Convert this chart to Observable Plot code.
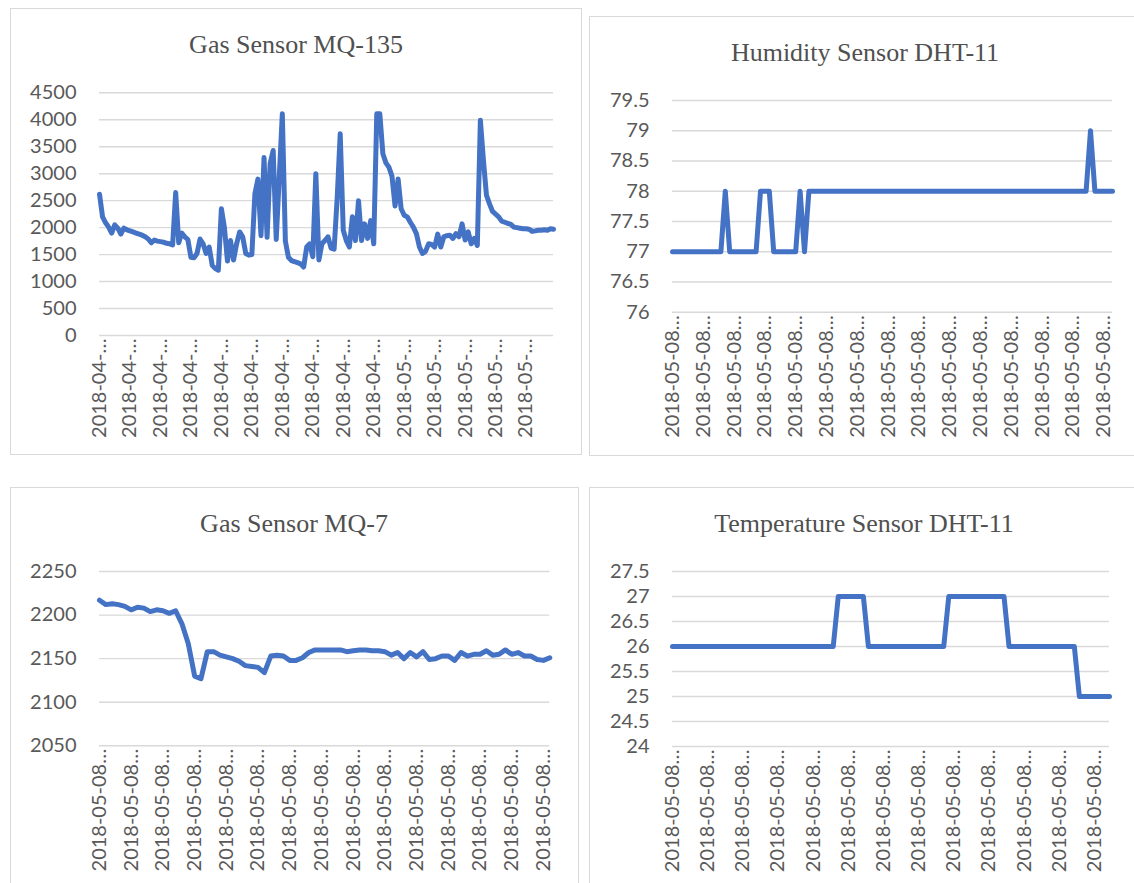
<!DOCTYPE html>
<html><head><meta charset="utf-8">
<script src="https://cdn.jsdelivr.net/npm/d3@7"></script>
<script src="https://cdn.jsdelivr.net/npm/@observablehq/plot@0.6"></script>
<style>
html,body{margin:0;padding:0;background:#fff;}
#page{position:relative;width:1134px;height:883px;overflow:hidden;background:#fff;}
.frame{position:absolute;border:1.3px solid #d9d9d9;box-sizing:border-box;}
.title{position:absolute;font-family:"Liberation Serif","Times New Roman",serif;font-size:26px;line-height:26px;color:#505050;white-space:nowrap;transform:translateX(-50%);}
.chart{position:absolute;}
</style></head><body><div id="page"></div>
<script>
// ---------- data ----------
const mq135Values = [
  2620, 2200, 2090, 2010, 1900, 2050, 1990, 1880, 1990, 1960,
  1940, 1920, 1900, 1880, 1860, 1830, 1790, 1720, 1770, 1750,
  1740, 1730, 1710, 1700, 1680, 2650, 1720, 1900, 1830, 1780,
  1450, 1440, 1520, 1790, 1700, 1520, 1640, 1300, 1240, 1210,
  2350, 2000, 1380, 1760, 1400, 1700, 1920, 1830, 1520, 1490,
  1500, 2630, 2900, 1850, 3300, 1820, 3190, 3430, 1780, 2940,
  4110, 1750, 1450, 1390, 1370, 1350, 1330, 1270, 1640, 1700,
  1460, 3000, 1400, 1700, 1760, 1830, 1620, 1600, 2540, 3740,
  1950, 1760, 1640, 2200, 1760, 2500, 1760, 2070, 1800, 2130,
  1700, 4110, 4110, 3370, 3200, 3120, 2950, 2400, 2900, 2350,
  2230, 2200, 2100, 2010, 1890, 1640, 1520, 1560, 1700, 1690,
  1640, 1880, 1640, 1830, 1850, 1860, 1800, 1890, 1830, 2070,
  1770, 1920, 1700, 1800, 1670, 3990, 3250, 2600, 2440, 2300,
  2250, 2200, 2120, 2100, 2080, 2060, 2010, 2000, 1990, 1980,
  1980, 1970, 1930, 1940, 1950, 1950, 1960, 1950, 1980, 1970
];
const mq135Labels = [
  "2018-04-…", "2018-04-…", "2018-04-…", "2018-04-…", "2018-04-…",
  "2018-04-…", "2018-04-…", "2018-04-…", "2018-04-…", "2018-04-…",
  "2018-05-…", "2018-05-…", "2018-05-…", "2018-05-…", "2018-05-…"
];
const mq135YTicks = [0, 500, 1000, 1500, 2000, 2500, 3000, 3500, 4000, 4500];

const humidityValues = [
  77, 77, 77, 77, 77, 77, 77, 77, 77, 77,
  77, 77, 78, 77, 77, 77, 77, 77, 77, 77,
  78, 78, 78, 77, 77, 77, 77, 77, 77, 78,
  77, 78, 78, 78, 78, 78, 78, 78, 78, 78,
  78, 78, 78, 78, 78, 78, 78, 78, 78, 78,
  78, 78, 78, 78, 78, 78, 78, 78, 78, 78,
  78, 78, 78, 78, 78, 78, 78, 78, 78, 78,
  78, 78, 78, 78, 78, 78, 78, 78, 78, 78,
  78, 78, 78, 78, 78, 78, 78, 78, 78, 78,
  78, 78, 78, 78, 78, 79, 78, 78, 78, 78,
  78
];
const humidityLabels = [
  "2018-05-08…", "2018-05-08…", "2018-05-08…", "2018-05-08…", "2018-05-08…",
  "2018-05-08…", "2018-05-08…", "2018-05-08…", "2018-05-08…", "2018-05-08…",
  "2018-05-08…", "2018-05-08…", "2018-05-08…", "2018-05-08…", "2018-05-08…"
];
const humidityYTicks = [76, 76.5, 77, 77.5, 78, 78.5, 79, 79.5];

const mq7Values = [
  2217, 2212, 2213, 2212, 2210, 2206, 2209, 2208, 2204, 2206,
  2205, 2202, 2205, 2190, 2167, 2130, 2127, 2158, 2158, 2154,
  2152, 2150, 2147, 2142, 2141, 2140, 2134, 2153, 2154, 2153,
  2148, 2148, 2151, 2157, 2160, 2160, 2160, 2160, 2160, 2158,
  2159, 2160, 2160, 2159, 2159, 2158, 2154, 2157, 2150, 2157,
  2152, 2158, 2149, 2150, 2153, 2153, 2148, 2157, 2153, 2155,
  2155, 2159, 2154, 2155, 2160, 2155, 2157, 2153, 2153, 2149,
  2148, 2151
];
const mq7Labels = [
  "2018-05-08…", "2018-05-08…", "2018-05-08…", "2018-05-08…", "2018-05-08…",
  "2018-05-08…", "2018-05-08…", "2018-05-08…", "2018-05-08…", "2018-05-08…",
  "2018-05-08…", "2018-05-08…", "2018-05-08…", "2018-05-08…", "2018-05-08…"
];
const mq7YTicks = [2050, 2100, 2150, 2200, 2250];

const temperatureValues = [
  26, 26, 26, 26, 26, 26, 26, 26, 26, 26,
  26, 26, 26, 26, 26, 26, 26, 26, 26, 26,
  26, 26, 26, 26, 26, 26, 26, 26, 26, 26,
  26, 26, 26, 27, 27, 27, 27, 27, 27, 26,
  26, 26, 26, 26, 26, 26, 26, 26, 26, 26,
  26, 26, 26, 26, 26, 27, 27, 27, 27, 27,
  27, 27, 27, 27, 27, 27, 27, 26, 26, 26,
  26, 26, 26, 26, 26, 26, 26, 26, 26, 26,
  26, 25, 25, 25, 25, 25, 25, 25
];
const temperatureLabels = [
  "2018-05-08…", "2018-05-08…", "2018-05-08…", "2018-05-08…", "2018-05-08…",
  "2018-05-08…", "2018-05-08…", "2018-05-08…", "2018-05-08…", "2018-05-08…",
  "2018-05-08…", "2018-05-08…", "2018-05-08…"
];
const temperatureYTicks = [24, 24.5, 25, 25.5, 26, 26.5, 27, 27.5];

// ---------- layout ----------
const page = document.getElementById("page");

function addPanel(cfg) {
  const fr = document.createElement("div");
  fr.className = "frame";
  Object.assign(fr.style, {left: cfg.frame[0] + "px", top: cfg.frame[1] + "px", width: cfg.frame[2] + "px", height: cfg.frame[3] + "px"});
  page.appendChild(fr);

  const n = cfg.values.length;
  const tickIdx = cfg.labels.map((_, k) => k * cfg.step);
  const data = cfg.values.map((v, i) => ({i, v}));

  const chart = Plot.plot({
    width: cfg.svg[2],
    height: cfg.svg[3],
    marginLeft: cfg.m[0],
    marginRight: cfg.m[1],
    marginTop: cfg.m[2],
    marginBottom: cfg.m[3],
    style: {fontFamily: "Lato, 'Open Sans', sans-serif", fontSize: "20px", color: "#595959", background: "transparent", overflow: "visible"},
    x: {type: "linear", domain: [0, n - 1]},
    y: {domain: [cfg.yTicks[0], cfg.yTicks[cfg.yTicks.length - 1]]},
    marks: [
      Plot.gridY(cfg.yTicks, {stroke: "#d9d9d9", strokeOpacity: 1, strokeWidth: 1.4}),
      Plot.axisY(cfg.yTicks, {tickSize: 0, tickPadding: 23, tickFormat: d => String(d), label: null}),
      Plot.axisX(tickIdx, {tickSize: 0, tickPadding: 3, tickRotate: -90, textAnchor: "end", tickFormat: d => cfg.labels[Math.round(d / cfg.step)], label: null}),
      Plot.line(data, {x: "i", y: "v", stroke: "#4472c4", strokeWidth: 5, strokeLinejoin: "round", strokeLinecap: "round"})
    ]
  });
  chart.classList.add("chart");
  Object.assign(chart.style, {left: cfg.svg[0] + "px", top: cfg.svg[1] + "px"});
  page.appendChild(chart);

  const t = document.createElement("div");
  t.className = "title";
  t.textContent = cfg.title;
  Object.assign(t.style, {left: cfg.titlePos[0] + "px", top: cfg.titlePos[1] + "px"});
  page.appendChild(t);
}

addPanel({
  title: "Gas Sensor MQ-135", titlePos: [296, 32],
  frame: [10, 8, 572, 447],
  svg: [0, 0, 590, 455], m: [99, 37, 92.3, 120],
  values: mq135Values, labels: mq135Labels, step: 10, yTicks: mq135YTicks
});
addPanel({
  title: "Humidity Sensor DHT-11", titlePos: [865, 40],
  frame: [589, 16, 560, 440],
  svg: [585, 0, 549, 456], m: [87, 22, 100, 144.3],
  values: humidityValues, labels: humidityLabels, step: 7, yTicks: humidityYTicks
});
addPanel({
  title: "Gas Sensor MQ-7", titlePos: [294, 511],
  frame: [10, 487, 569, 420],
  svg: [0, 470, 590, 413], m: [99, 40.7, 101, 137.7],
  values: mq7Values, labels: mq7Labels, step: 5, yTicks: mq7YTicks
});
addPanel({
  title: "Temperature Sensor DHT-11", titlePos: [864, 511],
  frame: [589, 487, 560, 420],
  svg: [585, 470, 549, 413], m: [87, 25, 101, 137],
  values: temperatureValues, labels: temperatureLabels, step: 7, yTicks: temperatureYTicks
});
</script></body></html>
